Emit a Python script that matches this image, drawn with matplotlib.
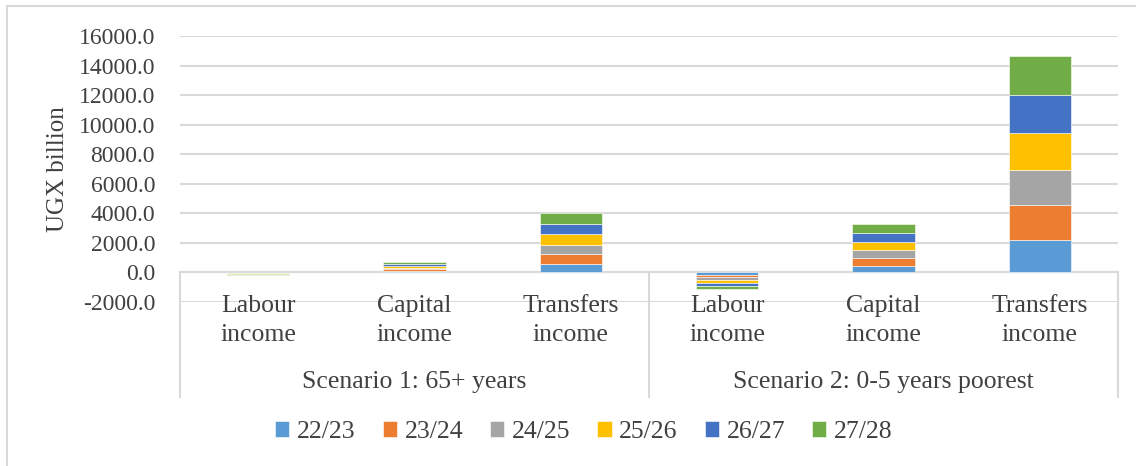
import matplotlib.pyplot as plt
from matplotlib.patches import Rectangle
import numpy as np

# values in UGX billion
periods = ['22/23', '23/24', '24/25', '25/26', '26/27', '27/28']
categories = ['Labour\nincome', 'Capital\nincome', 'Transfers\nincome',
              'Labour\nincome', 'Capital\nincome', 'Transfers\nincome']
scenarios = ['Scenario 1: 65+ years', 'Scenario 2: 0-5 years poorest']

s1_labour = [-20, -22, -24, -26, -28, -30]
s1_capital = [95, 105, 115, 120, 125, 135]
s1_transfers = [580, 635, 675, 680, 715, 770]
s2_labour = [-150, -170, -180, -190, -200, -210]
s2_capital = [450, 530, 530, 570, 580, 630]
s2_transfers = [2210, 2340, 2410, 2480, 2570, 2610]

colours = ['#5B9BD5', '#ED7D31', '#A5A5A5', '#FFC000', '#4472C4', '#70AD47']
grid_col = '#D9D9D9'
text_col = '#404040'
font = 'Liberation Serif'

W, H = 1136, 466
fig = plt.figure(figsize=(W / 100, H / 100), dpi=100)
fig.patch.set_facecolor('white')
# outer chart border (runs off right/bottom of the crop)
fig.add_artist(Rectangle((7 / W, -0.1), 1.2, 1 - 6 / H + 0.1, transform=fig.transFigure,
                         fill=False, edgecolor=grid_col, lw=1.5))

ax = fig.add_axes([180 / W, 1 - 302 / H, (1118 - 180) / W, (302 - 36) / H])

data = np.array([s1_labour, s1_capital, s1_transfers,
                 s2_labour, s2_capital, s2_transfers], dtype=float)
x = np.arange(len(categories))
pos_base = np.zeros(len(categories))
neg_base = np.zeros(len(categories))
for j, p in enumerate(periods):
    vals = data[:, j]
    base = np.where(vals >= 0, pos_base, neg_base)
    ax.bar(x, vals, 0.4, bottom=base, color=colours[j], label=p,
           edgecolor='white', linewidth=0.4, zorder=3)
    pos_base += np.where(vals >= 0, vals, 0)
    neg_base += np.where(vals < 0, vals, 0)

ax.set_xlim(-0.5, 5.5)
ax.set_ylim(-2000, 16000)
ax.set_yticks(np.arange(-2000, 16001, 2000))
ax.set_yticklabels(['%.1f' % v for v in np.arange(-2000, 16001, 2000)],
                   fontfamily=font, fontsize=17, color=text_col)
ax.set_xticks([])
ax.tick_params(axis='y', length=0, pad=18)
ax.yaxis.grid(True, color=grid_col, lw=1.5, zorder=0)
ax.set_axisbelow(True)
for s in ax.spines.values():
    s.set_visible(False)
ax.set_ylabel('UGX billion', fontfamily=font, fontsize=18, color=text_col)
ax.yaxis.set_label_coords(-0.118, 0.5)

# category axis at zero with two label levels
tr = ax.get_xaxis_transform()
y0 = 2000 / 18000
ax.axhline(0, color=grid_col, lw=1.5, zorder=1)
for xs in [-0.5, 2.5, 5.5]:
    ax.plot([xs, xs], [y0, -0.357], color=grid_col, lw=1.5, transform=tr, clip_on=False)
for i, c in enumerate(categories):
    ax.text(i, 0.025, c, transform=tr, ha='center', va='top', fontfamily=font,
            fontsize=18.5, color=text_col, linespacing=1.4)
for k, s in enumerate(scenarios):
    ax.text(1 + 3 * k, -0.30, s, transform=tr, ha='center', va='center',
            fontfamily=font, fontsize=18.5, color=text_col)

leg = fig.legend(loc='center', bbox_to_anchor=(584 / W, 1 - 432 / H), ncol=6,
                 frameon=False, handlelength=0.55, handleheight=0.55, handletextpad=0.3,
                 columnspacing=1.05, prop={'family': font, 'size': 18.5})
for t in leg.get_texts():
    t.set_color(text_col)

fig.savefig('out.png', dpi=100)
